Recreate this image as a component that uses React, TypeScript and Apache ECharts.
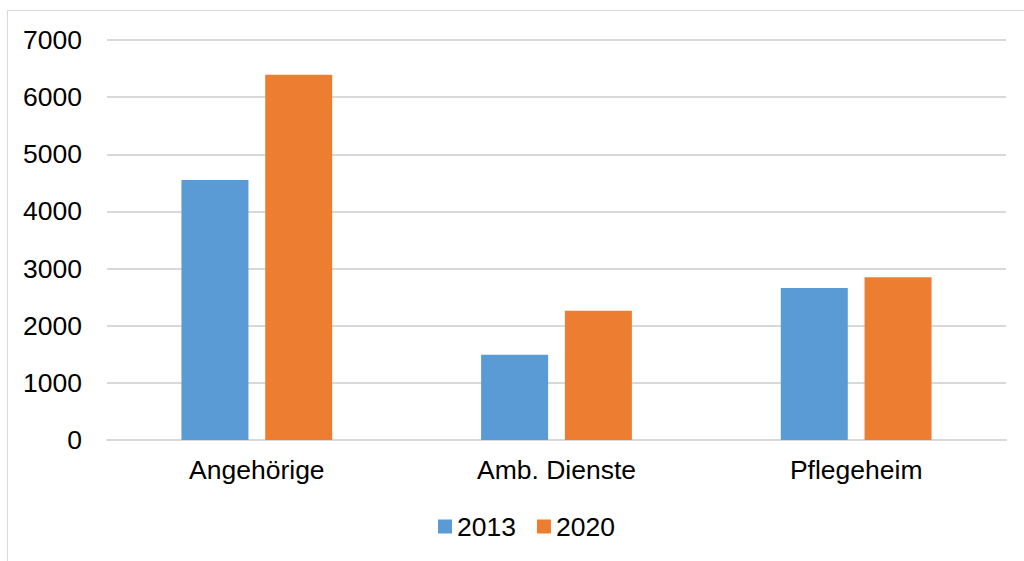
import React, { useEffect, useRef } from "react";
import * as echarts from "echarts";

const categories = ["Angehörige", "Amb. Dienste", "Pflegeheim"];
const seriesNames = ["2013", "2020"];
const values2013 = [4550, 1490, 2660];
const values2020 = [6390, 2260, 2850];
const colors = ["#5B9BD5", "#ED7D31"];

export default function App() {
  const ref = useRef<HTMLDivElement>(null);
  useEffect(() => {
    if (!ref.current) return;
    const chart = echarts.init(ref.current, undefined, { renderer: "svg" });
    const font = "'Liberation Sans', Arial, sans-serif";
    const fs = 26.5;
    chart.setOption({
      animation: false,
      backgroundColor: "#ffffff",
      graphic: [
        {
          type: "rect",
          shape: { x: 7.5, y: 10.5, width: 1100, height: 600 },
          style: { fill: "none", stroke: "#D9D9D9", lineWidth: 1 },
          silent: true,
        },
      ],
      grid: { left: 107, right: 18, top: 40, bottom: 121 },
      legend: {
        data: seriesNames,
        top: 508,
        left: 433,
        icon: "rect",
        itemWidth: 14,
        itemHeight: 14,
        itemGap: 21,
        textStyle: { fontSize: fs, color: "#000", fontFamily: font },
      },
      xAxis: {
        type: "category",
        data: categories,
        axisTick: { show: false },
        axisLine: { lineStyle: { color: "#D9D9D9", width: 2 } },
        axisLabel: { fontSize: fs, color: "#000", fontFamily: font, margin: 16 },
      },
      yAxis: {
        type: "value",
        min: 0,
        max: 7000,
        interval: 1000,
        axisLine: { show: false },
        axisTick: { show: false },
        splitLine: { lineStyle: { color: "#D9D9D9", width: 2 } },
        axisLabel: {
          fontSize: fs,
          color: "#000",
          fontFamily: font,
          margin: 25,
          formatter: (v: number) => String(v),
        },
      },
      series: [
        {
          name: seriesNames[0],
          type: "bar",
          data: values2013,
          barWidth: 67,
          barGap: "25%",
          itemStyle: { color: colors[0] },
        },
        {
          name: seriesNames[1],
          type: "bar",
          data: values2020,
          barWidth: 67,
          barGap: "25%",
          itemStyle: { color: colors[1] },
        },
      ],
    });
    return () => chart.dispose();
  }, []);
  return (
    <div
      ref={ref}
      style={{ position: "absolute", left: 0, top: 0, width: 1024, height: 561 }}
    />
  );
}
